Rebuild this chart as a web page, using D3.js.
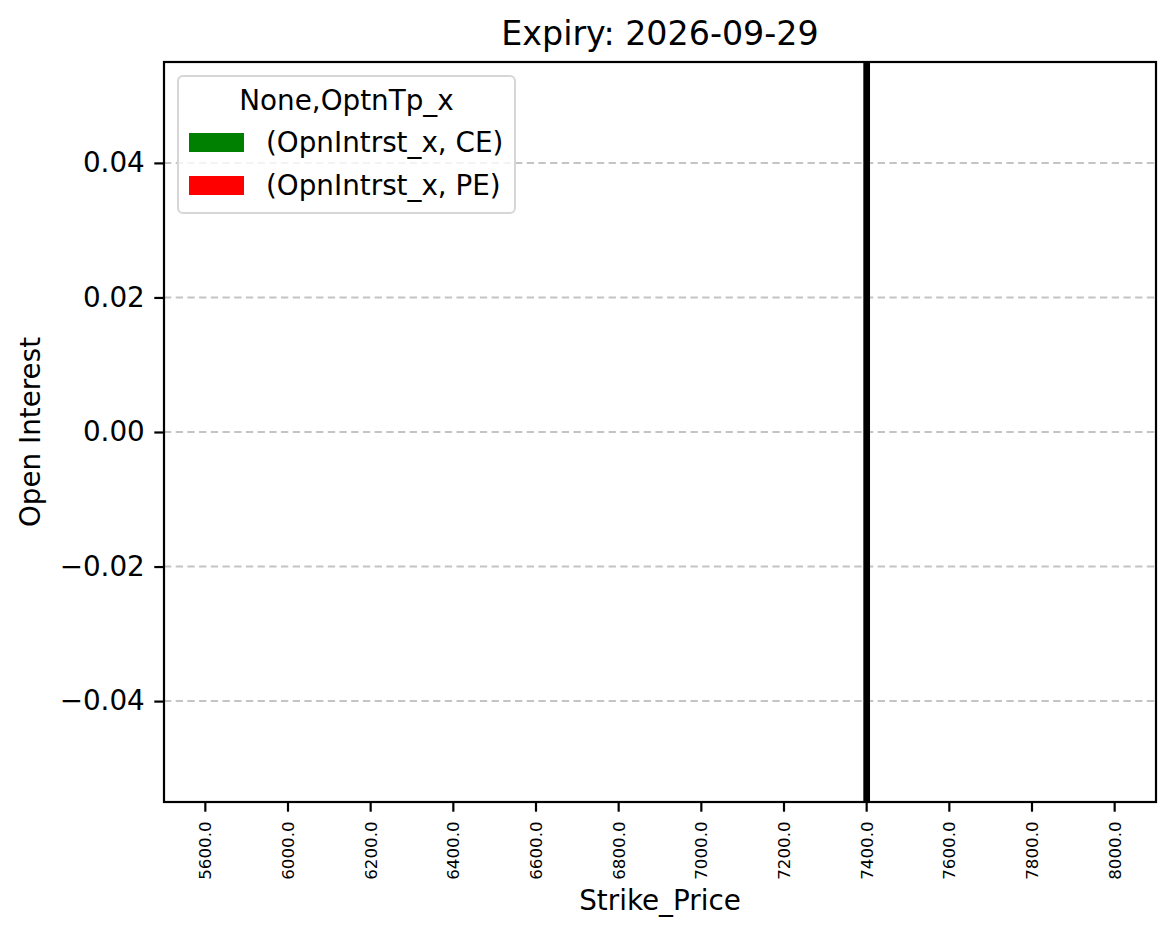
<!DOCTYPE html>
<html>
<head>
<meta charset="utf-8">
<script src="https://cdn.jsdelivr.net/npm/d3@7"></script>
<style>
  html, body { margin: 0; padding: 0; background: #fff; }
  svg { display: block; font-family: "DejaVu Sans", sans-serif; }
</style>
</head>
<body>
<svg id="chart" width="1175" height="939"></svg>
<script>
// ---- data ----
const strikes = [5600.0, 6000.0, 6200.0, 6400.0, 6600.0, 6800.0, 7000.0, 7200.0, 7400.0, 7600.0, 7800.0, 8000.0];
const ceOpenInterest = [0, 0, 0, 0, 0, 0, 0, 0, 0, 0, 0, 0];
const peOpenInterest = [0, 0, 0, 0, 0, 0, 0, 0, 0, 0, 0, 0];
const yTicks = [-0.04, -0.02, 0.0, 0.02, 0.04];
const yDomain = [-0.055, 0.055];
const spotStrike = 7400.0;
const seriesNames = ["(OpnIntrst_x, CE)", "(OpnIntrst_x, PE)"];
const seriesColors = ["#008000", "#ff0000"];
const titleText = "Expiry: 2026-09-29";
const legendTitle = "None,OptnTp_x";

(function () {
// ---- layout ----
const svg = d3.select("#chart");
const pL = 164, pR = 1156, pT = 62, pB = 802;

const x = d3.scaleBand()
  .domain(strikes.map(d => d.toFixed(1)))
  .range([pL, pR])
  .paddingInner(0.5)
  .paddingOuter(0.25);
const xc = d => x(d.toFixed(1)) + x.bandwidth() / 2;

const y = d3.scaleLinear().domain(yDomain).range([pB, pT]);

// grid
svg.append("g").selectAll("line").data(yTicks).join("line")
  .attr("x1", pL).attr("x2", pR)
  .attr("y1", d => y(d)).attr("y2", d => y(d))
  .attr("stroke", "#c4c4c4").attr("stroke-width", 2)
  .attr("stroke-dasharray", "7.3,4.4");

// bars
const barW = x.bandwidth() / 2;
const bars = svg.append("g");
strikes.forEach((s, i) => {
  [ceOpenInterest[i], peOpenInterest[i]].forEach((v, j) => {
    bars.append("rect")
      .attr("x", x(s.toFixed(1)) + j * barW)
      .attr("width", barW)
      .attr("y", y(Math.max(0, v)))
      .attr("height", Math.abs(y(v) - y(0)))
      .attr("fill", seriesColors[j]);
  });
});

// spot line
svg.append("line")
  .attr("x1", xc(spotStrike)).attr("x2", xc(spotStrike))
  .attr("y1", pT).attr("y2", pB)
  .attr("stroke", "#000").attr("stroke-width", 6.7);

// frame
svg.append("rect")
  .attr("x", pL).attr("y", pT)
  .attr("width", pR - pL).attr("height", pB - pT)
  .attr("fill", "none").attr("stroke", "#000").attr("stroke-width", 2.2);

// y axis
const fmtY = d => {
  const s = Math.abs(d).toFixed(2);
  return d < 0 ? "\u2212" + s : s;
};
const yAxis = svg.append("g")
  .attr("transform", `translate(${pL},0)`)
  .call(d3.axisLeft(y).tickValues(yTicks).tickFormat(fmtY).tickSize(9.7).tickPadding(9.5));
yAxis.select(".domain").remove();
yAxis.selectAll(".tick line").attr("stroke", "#000").attr("stroke-width", 2.2);
yAxis.selectAll(".tick text")
  .attr("font-family", "DejaVu Sans").attr("font-size", 27.8).attr("fill", "#000");

// x axis
const xAxis = svg.append("g")
  .attr("transform", `translate(0,${pB})`)
  .call(d3.axisBottom(x).tickSize(9.7).tickSizeOuter(0));
xAxis.select(".domain").remove();
xAxis.selectAll(".tick line").attr("stroke", "#000").attr("stroke-width", 2.2);
xAxis.selectAll(".tick text")
  .attr("font-family", "DejaVu Sans").attr("font-size", 16.7).attr("fill", "#000")
  .attr("transform", "rotate(-90)")
  .attr("text-anchor", "end")
  .attr("x", -19.4).attr("y", 0).attr("dy", "0.35em");

// title & labels
svg.append("text").attr("x", (pL + pR) / 2).attr("y", 45)
  .attr("text-anchor", "middle").attr("font-size", 33.3).attr("fill", "#000")
  .text(titleText);
svg.append("text").attr("x", (pL + pR) / 2).attr("y", 910)
  .attr("text-anchor", "middle").attr("font-size", 27.8).attr("fill", "#000")
  .text("Strike_Price");
svg.append("text")
  .attr("transform", `translate(40,${(pT + pB) / 2}) rotate(-90)`)
  .attr("text-anchor", "middle").attr("font-size", 27.8).attr("fill", "#000")
  .text("Open Interest");

// legend
const lg = svg.append("g");
lg.append("rect").attr("x", 178).attr("y", 76).attr("width", 337).attr("height", 137)
  .attr("rx", 5).attr("ry", 5)
  .attr("fill", "#fff").attr("fill-opacity", 0.8)
  .attr("stroke", "#d6d6d6").attr("stroke-width", 2);
lg.append("text").attr("x", 346.5).attr("y", 110)
  .attr("text-anchor", "middle").attr("font-size", 27.8).attr("fill", "#000")
  .text(legendTitle);
seriesNames.forEach((name, i) => {
  const yy = 133 + i * 43;
  lg.append("rect").attr("x", 189).attr("y", yy).attr("width", 55).attr("height", 19)
    .attr("fill", seriesColors[i]);
  lg.append("text").attr("x", 266).attr("y", yy + 19)
    .attr("font-size", 27.8).attr("fill", "#000").text(name);
});
})();
</script>
</body>
</html>
